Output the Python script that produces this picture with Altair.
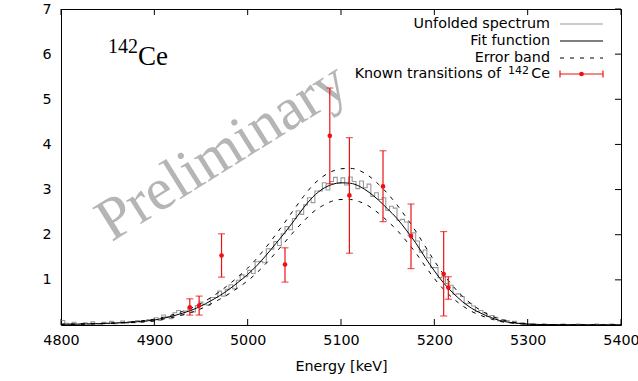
import altair as alt
import pandas as pd

# ---------------- data ----------------
spec_start = 4800
spec_step = 4
spec_flux = [
    0.10, 0.04, 0.02, 0.06, 0.01, 0.03, 0.05, 0.02, 0.07, 0.03,
    0.02, 0.06, 0.04, 0.08, 0.03, 0.05, 0.09, 0.04, 0.07, 0.05,
    0.10, 0.06, 0.09, 0.12, 0.08,
    0.16, 0.10, 0.22, 0.18, 0.14, 0.27, 0.32, 0.23, 0.31, 0.39,
    0.29, 0.43, 0.51, 0.45, 0.44, 0.61, 0.61, 0.75, 0.64, 0.79,
    0.89, 0.80, 0.99, 1.11, 1.07,
    1.21, 1.14, 1.40, 1.41, 1.38, 1.69, 1.68, 1.85, 1.76, 2.02,
    2.18, 2.11, 2.36, 2.53, 2.45, 2.66, 2.82, 2.71, 2.97, 2.97,
    3.15, 2.99, 3.18, 3.27, 3.14,
    3.26, 3.10, 3.28, 3.18, 3.02, 3.19, 3.04, 3.12, 2.85, 2.93,
    2.78, 2.82, 2.54, 2.63, 2.59, 2.32, 2.34, 2.28, 1.98, 2.04,
    1.86, 1.61, 1.66, 1.49, 1.27,
    1.27, 1.05, 1.07, 0.92, 0.88, 0.68, 0.69, 0.63, 0.47, 0.48,
    0.42, 0.30, 0.32, 0.27, 0.19, 0.21, 0.17, 0.09, 0.12, 0.10,
    0.05, 0.08, 0.04, 0.05, 0.02,
    0.02, 0.01, 0.00, 0.01, 0.02, 0.00, 0.01, 0.01, 0.00, 0.02,
    0.01, 0.00, 0.01, 0.02, 0.01, 0.00, 0.01, 0.00, 0.02, 0.01,
    0.00, 0.01, 0.02, 0.00, 0.01,
]

fit_energy = [4800, 4820, 4840, 4860, 4880,
              4900, 4910, 4920, 4930, 4940, 4950, 4960, 4970, 4980, 4990,
              5000, 5010, 5020, 5030, 5040, 5050, 5060, 5070, 5080, 5090,
              5100, 5110, 5120, 5130, 5140, 5150, 5160, 5170, 5180, 5190,
              5200, 5210, 5220, 5230, 5240, 5250, 5260, 5270, 5280, 5290,
              5300, 5320, 5340, 5370, 5400]
fit_flux = [0.015, 0.02, 0.03, 0.045, 0.07,
            0.11, 0.15, 0.20, 0.26, 0.33, 0.42, 0.53, 0.65, 0.79, 0.95,
            1.12, 1.32, 1.55, 1.80, 2.05, 2.32, 2.60, 2.84, 3.01, 3.11,
            3.15, 3.14, 3.07, 2.94, 2.77, 2.57, 2.36, 2.10, 1.82, 1.50,
            1.20, 0.93, 0.71, 0.52, 0.37, 0.26, 0.17, 0.10, 0.06, 0.035,
            0.02, 0.01, 0.005, 0.003, 0.002]
band_upper = [0.02, 0.025, 0.035, 0.05, 0.08,
              0.13, 0.17, 0.23, 0.30, 0.38, 0.48, 0.60, 0.74, 0.90, 1.07,
              1.26, 1.48, 1.73, 2.00, 2.28, 2.57, 2.85, 3.10, 3.28, 3.40,
              3.46, 3.47, 3.42, 3.30, 3.12, 2.91, 2.66, 2.38, 2.08, 1.75,
              1.42, 1.12, 0.86, 0.64, 0.46, 0.32, 0.21, 0.13, 0.08, 0.045,
              0.025, 0.012, 0.006, 0.003, 0.002]
band_lower = [0.01, 0.015, 0.025, 0.04, 0.06,
              0.09, 0.13, 0.17, 0.22, 0.28, 0.36, 0.46, 0.57, 0.69, 0.83,
              0.98, 1.16, 1.37, 1.60, 1.84, 2.08, 2.30, 2.50, 2.64, 2.74,
              2.78, 2.78, 2.73, 2.63, 2.48, 2.30, 2.10, 1.86, 1.60, 1.31,
              1.03, 0.79, 0.59, 0.43, 0.30, 0.21, 0.14, 0.08, 0.05, 0.03,
              0.015, 0.008, 0.004, 0.002, 0.001]

trans_energy = [4938, 4948, 4972, 5040, 5088, 5109, 5145, 5175, 5210, 5215]
trans_flux = [0.39, 0.43, 1.54, 1.34, 4.19, 2.87, 3.07, 1.97, 1.13, 0.83]
trans_lo = [0.22, 0.22, 1.06, 0.95, 3.13, 1.59, 2.29, 1.25, 0.20, 0.57]
trans_hi = [0.58, 0.64, 2.02, 1.71, 5.25, 4.15, 3.86, 2.68, 2.07, 1.07]

x_ticks = [4800, 4900, 5000, 5100, 5200, 5300, 5400]
y_ticks = [1, 2, 3, 4, 5, 6, 7]

# ---------------- tables ----------------
spec_df = pd.DataFrame({
    "E": [spec_start + i * spec_step for i in range(len(spec_flux))] + [5400],
    "F": spec_flux + [spec_flux[-1]],
})
fit_df = pd.DataFrame({"E": fit_energy, "F": fit_flux,
                       "U": band_upper, "L": band_lower})
trans_df = pd.DataFrame({"E": trans_energy, "F": trans_flux,
                         "lo": trans_lo, "hi": trans_hi})
xt_df = pd.DataFrame({"E": x_ticks})
yt_df = pd.DataFrame({"F": y_ticks})

W, H = 560, 316
FONT = "DejaVu Sans"
FS = 14.3
RED = "#ee1111"
GRAY = "#999999"

xs = alt.Scale(domain=[4800, 5400], nice=False, zero=False)
ys = alt.Scale(domain=[0, 7], nice=False)

x_axis = alt.Axis(values=x_ticks, title="Energy [keV]", grid=False, ticks=False,
                  domain=False, labelFontSize=FS, labelFont=FONT, labelColor="black",
                  labelPadding=8, labelFlush=False, labelOverlap=False,
                  titleFont=FONT, titleFontSize=FS,
                  titleFontWeight="normal", titleColor="black", titlePadding=12,
                  format="d")
y_axis = alt.Axis(values=y_ticks, title="Photon flux [10⁻¹⁸ keV⁻¹ fm⁻²]", grid=False,
                  ticks=False, domain=False, labelFontSize=FS, labelFont=FONT,
                  labelColor="black", labelPadding=10, labelFlush=False,
                  labelOverlap=False, titleFont=FONT,
                  titleFontSize=FS, titleFontWeight="normal", titleColor="black",
                  titlePadding=12)


def one(text):
    return pd.DataFrame({"t": [text]})


watermark = alt.Chart(one("Preliminary")).mark_text(
    font="Liberation Serif", fontSize=60, color="#b5b5b5", angle=328,
    align="center", baseline="middle"
).encode(x=alt.value(161), y=alt.value(143), text="t:N")

iso_mass = alt.Chart(one("142")).mark_text(
    font="Liberation Serif", fontSize=20, color="black", align="left",
    baseline="alphabetic"
).encode(x=alt.value(47), y=alt.value(44), text="t:N")
iso_el = alt.Chart(one("Ce")).mark_text(
    font="Liberation Serif", fontSize=27, color="black", align="left",
    baseline="alphabetic"
).encode(x=alt.value(77), y=alt.value(56), text="t:N")

spectrum = alt.Chart(spec_df).mark_line(
    interpolate="step-after", color=GRAY, strokeWidth=1.1, clip=True
).encode(x=alt.X("E:Q", scale=xs, axis=x_axis), y=alt.Y("F:Q", scale=ys, axis=y_axis))

upper = alt.Chart(fit_df).mark_line(
    interpolate="monotone", color="black", strokeWidth=1, strokeDash=[4, 6], clip=True
).encode(x=alt.X("E:Q", scale=xs), y=alt.Y("U:Q", scale=ys))
lower = alt.Chart(fit_df).mark_line(
    interpolate="monotone", color="black", strokeWidth=1, strokeDash=[4, 6], clip=True
).encode(x=alt.X("E:Q", scale=xs), y=alt.Y("L:Q", scale=ys))
fit = alt.Chart(fit_df).mark_line(
    interpolate="monotone", color="black", strokeWidth=1.0, clip=True
).encode(x=alt.X("E:Q", scale=xs), y=alt.Y("F:Q", scale=ys))

errbars = alt.Chart(trans_df).mark_errorbar(
    ticks={"size": 7, "color": RED, "thickness": 1.2}, color=RED, thickness=1.2
).encode(x=alt.X("E:Q", scale=xs), y=alt.Y("lo:Q", scale=ys, title=None), y2="hi:Q")
points = alt.Chart(trans_df).mark_circle(color=RED, size=22, opacity=1).encode(
    x=alt.X("E:Q", scale=xs), y=alt.Y("F:Q", scale=ys))

# inner ticks (gnuplot style)
bottom_ticks = alt.Chart(xt_df).mark_rule(color="black", strokeWidth=1).encode(
    x=alt.X("E:Q", scale=xs), y=alt.value(H), y2=alt.value(H - 6))
top_ticks = alt.Chart(xt_df).mark_rule(color="black", strokeWidth=1).encode(
    x=alt.X("E:Q", scale=xs), y=alt.value(0), y2=alt.value(6))
right_ticks = alt.Chart(yt_df).mark_rule(color="black", strokeWidth=1).encode(
    y=alt.Y("F:Q", scale=ys), x=alt.value(W), x2=alt.value(W - 6))

# legend
LX = 489
L0, L1 = 499, 542
rows = [15, 32, 49, 65]
legend_layers = []
for lab, yy in zip(["Unfolded spectrum", "Fit function", "Error band"], rows[:3]):
    legend_layers.append(
        alt.Chart(one(lab)).mark_text(font=FONT, fontSize=FS, color="black",
                                      align="right", baseline="middle")
        .encode(x=alt.value(LX), y=alt.value(yy), text="t:N"))
legend_layers.append(
    alt.Chart(one("Known transitions of")).mark_text(
        font=FONT, fontSize=FS, color="black", align="right", baseline="middle")
    .encode(x=alt.value(LX - 49), y=alt.value(rows[3]), text="t:N"))
legend_layers.append(
    alt.Chart(one("142")).mark_text(
        font=FONT, fontSize=11, color="black", align="right", baseline="middle")
    .encode(x=alt.value(LX - 21), y=alt.value(rows[3] - 3), text="t:N"))
legend_layers.append(
    alt.Chart(one("Ce")).mark_text(
        font=FONT, fontSize=FS, color="black", align="right", baseline="middle")
    .encode(x=alt.value(LX), y=alt.value(rows[3]), text="t:N"))
legend_layers.append(alt.Chart(one("a")).mark_rule(color=GRAY, strokeWidth=1.2).encode(
    x=alt.value(L0), x2=alt.value(L1), y=alt.value(rows[0])))
legend_layers.append(alt.Chart(one("a")).mark_rule(color="black", strokeWidth=1.1).encode(
    x=alt.value(L0), x2=alt.value(L1), y=alt.value(rows[1])))
legend_layers.append(alt.Chart(one("a")).mark_rule(color="black", strokeWidth=1,
                                                   strokeDash=[4, 6]).encode(
    x=alt.value(L0), x2=alt.value(L1), y=alt.value(rows[2])))
legend_layers.append(alt.Chart(one("a")).mark_rule(color=RED, strokeWidth=1.2).encode(
    x=alt.value(L0), x2=alt.value(L1), y=alt.value(rows[3])))
for cx in (L0, L1):
    legend_layers.append(alt.Chart(one("a")).mark_rule(color=RED, strokeWidth=1.2).encode(
        x=alt.value(cx), y=alt.value(rows[3] - 3.5), y2=alt.value(rows[3] + 3.5)))
legend_layers.append(alt.Chart(one("a")).mark_circle(color=RED, size=22, opacity=1).encode(
    x=alt.value((L0 + L1) / 2), y=alt.value(rows[3])))

chart = alt.layer(
    watermark, spectrum, upper, lower, fit, errbars, points,
    bottom_ticks, top_ticks, right_ticks, iso_mass, iso_el, *legend_layers
).properties(
    width=W, height=H,
    autosize=alt.AutoSizeParams(type="none"),
    padding={"left": 61, "top": 9, "right": 17, "bottom": 56},
    background="white",
).configure_view(stroke="black", strokeWidth=1)

chart.save("out.html", embed_options={"renderer": "svg", "actions": False})
